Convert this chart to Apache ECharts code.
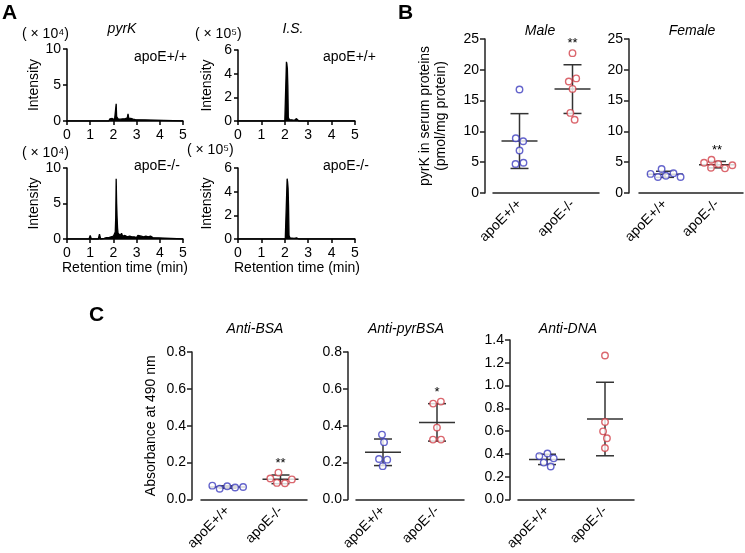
<!DOCTYPE html>
<html><head><meta charset="utf-8">
<script src="https://cdn.jsdelivr.net/npm/echarts@6/dist/echarts.min.js"></script>
<style>html,body{margin:0;padding:0;background:#fff}#c{width:745px;height:553px}</style>
</head><body><div id="c"></div>
<script>
// ---------------- Data ----------------
// Panel A chromatograms (time in min, intensity in axis units)
const pyrkWtTime = [0,1.8,1.85,1.9,1.95,2.0,2.05,2.1,2.12,2.14,2.17,2.2,2.25,2.3,2.35,2.4,2.45,2.5,2.55,2.6,2.63,2.66,2.7,2.75,2.8,2.85,2.9,2.95,3.0,5];
const pyrkWtInt  = [0,0,0.3,0.2,0.35,0.15,0.2,0.3,2.4,0.6,0.5,0.3,0.4,0.25,0.35,0.3,0.4,0.3,0.35,0.45,1.0,0.4,0.3,0.35,0.3,0.25,0.3,0.2,0,0];
const pyrkKoTime = [0,0.95,1.0,1.05,1.35,1.4,1.45,1.6,1.7,1.75,1.8,1.85,1.9,1.95,2.0,2.05,2.08,2.1,2.12,2.14,2.16,2.18,2.2,2.22,2.25,2.3,2.35,2.4,2.45,2.5,2.55,2.6,2.65,2.7,2.75,2.8,2.85,2.9,2.95,3.0,3.05,3.1,3.2,3.3,3.4,3.5,3.6,3.7,3.75,5];
const pyrkKoInt  = [0,0,0.5,0,0,0.7,0,0.1,0.2,0.3,0.2,0.4,0.3,0.5,0.4,0.6,1.0,3.0,8.5,5.0,3.0,1.5,0.8,0.6,0.7,0.5,0.8,0.4,0.6,0.5,0.7,0.3,0.5,0.4,0.6,0.3,0.5,0.3,0.4,0.2,0.5,0.3,0.4,0.3,0.4,0.3,0.4,0.2,0,0];
const isWtTime = [0,2.0,2.05,2.07,2.09,2.11,2.13,2.15,2.2,2.3,2.4,2.45,2.5,2.55,2.6,5];
const isWtInt  = [0,0,0.1,5.0,4.8,4.4,3.0,0.3,0.1,0.1,0.05,0.1,0.2,0.05,0,0];
const isKoTime = [0,2.02,2.07,2.1,2.12,2.14,2.16,2.18,2.22,2.3,2.4,2.5,2.55,2.6,5];
const isKoInt  = [0,0,0.1,5.1,4.8,4.3,2.8,0.3,0.1,0.1,0.05,0.1,0.15,0,0];
const retentionTicks = [0,1,2,3,4,5];

// Panel B / C groups
const groups = ['apoE+/+','apoE-/-'];
const maleWT = [16.8, 8.4, 8.9, 6.9, 4.7, 4.9];
const maleKO = [22.7, 18.6, 18.1, 16.9, 13.0, 11.9];
const femaleWT = [3.9, 3.2, 3.1, 2.6, 2.6, 2.8];
const femaleKO = [5.4, 4.5, 4.9, 4.0, 4.1, 4.7];
const bsaWT = [0.075, 0.068, 0.058, 0.065, 0.072];
const bsaKO = [0.146, 0.109, 0.114, 0.088, 0.090];
const pyrbsaWT = [0.352, 0.311, 0.220, 0.216, 0.181];
const pyrbsaKO = [0.520, 0.531, 0.390, 0.325, 0.325];
const dnaWT = [0.381, 0.361, 0.404, 0.324, 0.290];
const dnaKO = [1.264, 0.680, 0.598, 0.538, 0.452];
const maleSig = ['', '**'];
const femaleSig = ['', '**'];
const bsaSig = ['', '**'];
const pyrbsaSig = ['', '*'];
const dnaSig = ['', ''];

// ---------------- Styling / layout ----------------
const FONT = "'Liberation Sans', Arial, sans-serif";
const BLUE = '#3f3fbf', RED = '#d2414a', AX = '#222', BAR = '#333';
const chart = echarts.init(document.getElementById('c'), null, {renderer:'canvas'});

const grids = [], xAxes = [], yAxes = [], series = [];

function chromPanel(gi, box, ymax, yint, times, ints) {
  grids.push(Object.assign({containLabel:false}, box));
  xAxes.push({gridIndex:gi, type:'value', min:retentionTicks[0], max:retentionTicks[retentionTicks.length-1], interval:1,
    axisLine:{lineStyle:{color:'#000', width:1.5}}, axisTick:{length:4, lineStyle:{color:'#000', width:1.5}},
    axisLabel:{color:'#000', fontSize:14, fontFamily:FONT, margin:7}, splitLine:{show:false}});
  yAxes.push({gridIndex:gi, type:'value', min:0, max:ymax, interval:yint,
    name:'Intensity', nameLocation:'middle', nameGap:24, nameTextStyle:{color:'#000', fontSize:14, fontFamily:FONT},
    axisLine:{show:true, lineStyle:{color:'#000', width:1.5}}, axisTick:{show:true, length:4, lineStyle:{color:'#000', width:1.5}},
    axisLabel:{color:'#000', fontSize:14, fontFamily:FONT, margin:6}, splitLine:{show:false}});
  series.push({type:'line', xAxisIndex:gi, yAxisIndex:gi, showSymbol:false, silent:true,
    data: times.map((t,i)=>[t, ints[i]]),
    lineStyle:{color:'#000', width:1.3}, areaStyle:{color:'#000', opacity:1}});
}

// symmetric swarm layout: pairwise horizontal repulsion of overlapping dots
function swarm(vals, pxPerUnit, D) {
  const ys = vals.map(v => v * pxPerUnit);
  const offs = vals.map((v, i) => (i % 2 ? 1 : -1) * 0.01 * (i + 1));
  for (let it = 0; it < 400; it++) {
    for (let i = 0; i < vals.length; i++) for (let j = i + 1; j < vals.length; j++) {
      const dy = ys[i] - ys[j];
      if (Math.abs(dy) >= D) continue;
      const w = Math.sqrt(D * D - dy * dy);
      const dx = offs[i] - offs[j];
      if (Math.abs(dx) >= w) continue;
      const sgn = dx >= 0 ? 1 : -1;
      const push = (w - Math.abs(dx)) / 2 + 0.01;
      offs[i] += sgn * push; offs[j] -= sgn * push;
    }
  }
  return offs;
}
function mean(a){return a.reduce((s,v)=>s+v,0)/a.length;}
function sd(a){const m=mean(a);return Math.sqrt(a.reduce((s,v)=>s+(v-m)*(v-m),0)/(a.length-1));}

function dotPanel(gi, box, yOffset, ymax, yint, decimals, sets, sig, yName, nameGap) {
  grids.push(Object.assign({containLabel:false}, box));
  xAxes.push({gridIndex:gi, type:'category', data:groups, boundaryGap:true,
    axisLine:{lineStyle:{color:AX, width:1.5}}, axisTick:{show:false},
    axisLabel:{color:'#000', fontSize:14, fontFamily:FONT, rotate:45, margin:9, interval:0}});
  yAxes.push({gridIndex:gi, type:'value', min:0, max:ymax, interval:yint, offset:yOffset,
    name: yName || '', nameLocation:'middle', nameGap:nameGap || 30,
    nameTextStyle:{color:'#000', fontSize:14, fontFamily:FONT, lineHeight:16},
    axisLine:{show:true, lineStyle:{color:AX, width:1.5}}, axisTick:{show:true, length:5, lineStyle:{color:AX, width:1.5}},
    axisLabel:{color:'#000', fontSize:14, fontFamily:FONT, margin:6, formatter:v=>v.toFixed(decimals)}, splitLine:{show:false}});
  const pxPerUnit = box.height / ymax;
  const cols = [BLUE, RED];
  sets.forEach((vals, ci) => {
    const offs = swarm(vals, pxPerUnit, 8);
    series.push({type:'scatter', xAxisIndex:gi, yAxisIndex:gi, silent:true, z:3,
      symbol:'circle', symbolSize:6.5,
      itemStyle:{color:'#fff', borderColor:cols[ci], borderWidth:1.4},
      data: vals.map((v,i)=>({value:[ci, v], symbolOffset:[offs[i], 0]}))});
  });
  series.push({type:'custom', xAxisIndex:gi, yAxisIndex:gi, silent:true, z:2,
    data: sets.map((vals, ci) => [ci, mean(vals), sd(vals), Math.max(...vals), ci]),
    renderItem: (params, api) => {
      const x = api.value(0), m = api.value(1), s = api.value(2), mx = api.value(3), ci = api.value(4);
      const c = api.coord([x, m]);
      const t = api.coord([x, m + s]);
      const b = api.coord([x, Math.max(0, m - s)]);
      const ls = {stroke:BAR, lineWidth:1.5};
      const children = [
        {type:'line', shape:{x1:c[0]-18, y1:c[1], x2:c[0]+18, y2:c[1]}, style:ls},
        {type:'line', shape:{x1:c[0], y1:t[1], x2:c[0], y2:b[1]}, style:ls},
        {type:'line', shape:{x1:c[0]-9, y1:t[1], x2:c[0]+9, y2:t[1]}, style:ls},
        {type:'line', shape:{x1:c[0]-9, y1:b[1], x2:c[0]+9, y2:b[1]}, style:ls}
      ];
      const label = sig[ci];
      if (label) {
        const top = Math.min(api.coord([x, mx])[1], t[1]);
        children.push({type:'text', style:{text:label, x:c[0], y:top - 3, align:'center', verticalAlign:'bottom',
          font:'13px ' + FONT, fill:'#000'}});
      }
      return {type:'group', children};
    }});
}

// Panel A
chromPanel(0, {left:67, top:49, width:116, height:72}, 10, 5, pyrkWtTime, pyrkWtInt);
chromPanel(1, {left:238, top:50, width:117, height:71}, 6, 2, isWtTime, isWtInt);
chromPanel(2, {left:67, top:168, width:116, height:71}, 10, 5, pyrkKoTime, pyrkKoInt);
chromPanel(3, {left:238, top:168, width:117, height:71}, 6, 2, isKoTime, isKoInt);
// Panel B
dotPanel(4, {left:493, top:39, width:106, height:154}, 8, 25, 5, 0, [maleWT, maleKO], maleSig,
  'pyrK in serum proteins\n(pmol/mg protein)', 36);
dotPanel(5, {left:639, top:39, width:104, height:154}, 10, 25, 5, 0, [femaleWT, femaleKO], femaleSig);
// Panel C
dotPanel(6, {left:201, top:352, width:106, height:151}, 9, 0.8, 0.2, 1, [bsaWT, bsaKO], bsaSig,
  'Absorbance at 490 nm', 33);
dotPanel(7, {left:356, top:352, width:108, height:151}, 8, 0.8, 0.2, 1, [pyrbsaWT, pyrbsaKO], pyrbsaSig);
dotPanel(8, {left:518, top:340, width:116, height:164}, 8, 1.4, 0.2, 1, [dnaWT, dnaKO], dnaSig);

function txt(text, x, y, font, align) {
  return {type:'text', x, y, silent:true,
    style:{text, font, fill:'#000', align: align || 'center', verticalAlign:'middle'}};
}
const f14 = '14px ' + FONT, i14 = 'italic 14px ' + FONT, b20 = 'bold 21px ' + FONT;
const graphics = [
  txt('A', 2, 13, b20, 'left'),
  txt('B', 398, 13, b20, 'left'),
  txt('C', 89, 315, b20, 'left'),
  txt('pyrK', 122, 29, i14),
  txt('I.S.', 293, 29, i14),
  txt('( × 10⁴)', 22, 34, f14, 'left'),
  txt('( × 10⁵)', 195, 34, f14, 'left'),
  txt('( × 10⁴)', 22, 153, f14, 'left'),
  txt('( × 10⁵)', 187, 150, f14, 'left'),
  txt('apoE+/+', 134, 57, f14, 'left'),
  txt('apoE+/+', 323, 57, f14, 'left'),
  txt('apoE-/-', 134, 166, f14, 'left'),
  txt('apoE-/-', 323, 166, f14, 'left'),
  txt('Retention time (min)', 125, 268, f14),
  txt('Retention time (min)', 297, 268, f14),
  txt('Male', 540, 31, i14),
  txt('Female', 692, 31, i14),
  txt('Anti-BSA', 255, 329, i14),
  txt('Anti-pyrBSA', 406, 329, i14),
  txt('Anti-DNA', 568, 329, i14)
];

chart.setOption({
  animation:false,
  backgroundColor:'#fff',
  textStyle:{fontFamily:FONT},
  grid:grids, xAxis:xAxes, yAxis:yAxes, series,
  graphic:{elements:graphics}
});
</script>
</body></html>
